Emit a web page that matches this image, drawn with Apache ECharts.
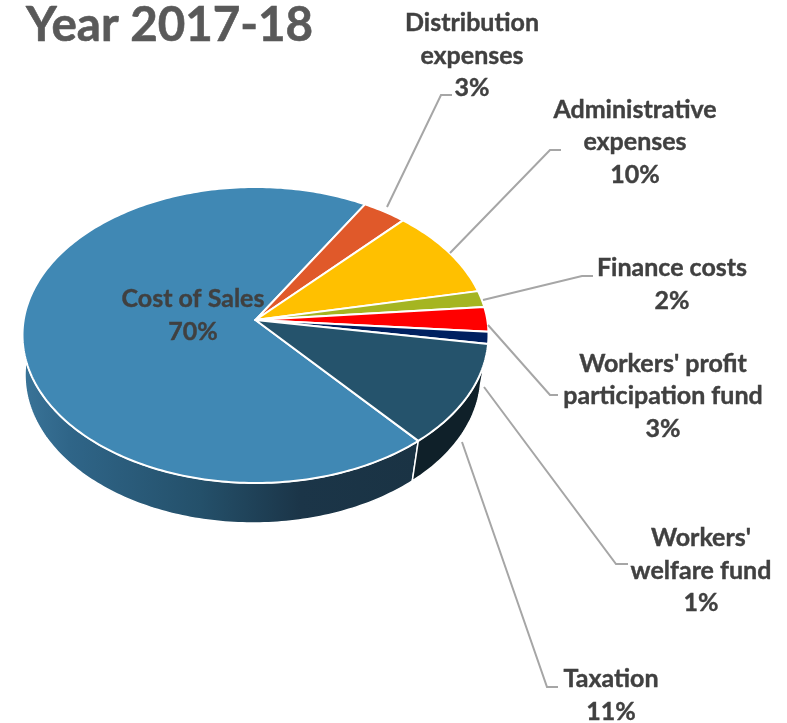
<!DOCTYPE html>
<html>
<head>
<meta charset="utf-8">
<style>html,body{margin:0;padding:0;background:#fff}#c{width:787px;height:723px}</style>
<script src="https://cdn.jsdelivr.net/npm/echarts@6/dist/echarts.min.js"></script>
</head>
<body>
<div id="c"></div>
<script>
// ---- data ----
const categories = ['Cost of Sales', 'Distribution\nexpenses', 'Administrative\nexpenses', 'Finance costs',
  "Workers' profit\nparticipation fund", "Workers'\nwelfare fund", 'Taxation'];
const shares = [69.8, 3.4, 9.8, 1.8, 2.7, 1.3, 11.2];
const titleText = 'Year 2017-18';

// ---- styling ----
const faceColors = ['#4088B4', '#E0592A', '#FFC000', '#A5B521', '#FF0000', '#002060', '#25536C'];
const wallFlat = ['#1F4660', '#7A3415', '#8A6800', '#5A6312', '#8A0000', '#001033', '#0F2029'];
const wallGradientStops = [[0, '#3A7498'], [0.12, '#2F6588'], [0.45, '#24506A'], [0.7, '#1B3548'], [1, '#1A3344']];
const textColor = '#404040';
const leaderColor = '#A6A6A6';
const labelFont = 'bold 25px Lato, "Open Sans", sans-serif';

// ---- layout ----
const startAngle = 139.6;
const apex = { x: 255.5, y: 320 }, RX = 231.8, RY = 146.5, K = 0.1013;
const rimHalfWidth = 233, rimHalfHeight = 148, rimMidY = 335;
const wallCx = 253, wallHalfWidth = 228, wallHalfHeight = 148, wallMidY = 375;
const labelAnchors = [[193, 315.5], [472, 55.5], [635, 142], [672, 284.5], [663, 396], [701, 570.5], [611, 695.5]];
const leaders = [null,
  [[387, 207], [441, 95], [452, 95]],
  [[450, 253], [550, 150], [561, 150]],
  [[483, 300], [582, 276], [593, 276]],
  [[488, 325], [550, 395], [558, 395]],
  [[484, 387], [616, 564], [628, 564]],
  [[462, 442], [547, 687], [558, 687]]];

// cumulative slice angles, derived from the values
const total = shares.reduce((a, b) => a + b, 0);
const spans = [];
shares.reduce((acc, s) => { const a1 = acc + s / total * 360; spans.push([acc, a1]); return a1; }, startAngle);

function topRim(theta) {
  const t = theta * Math.PI / 180, u = Math.sin(t), v = -Math.cos(t), d = 1 - K * v;
  return [apex.x + RX * u / d, apex.y + RY * v / d];
}
function bottomRim(theta) {
  const p = topRim(theta);
  return [wallCx + (p[0] - apex.x) * wallHalfWidth / rimHalfWidth,
          wallMidY + (p[1] - rimMidY) * wallHalfHeight / rimHalfHeight];
}
function arc(fn, a0, a1) {
  const pts = [], n = Math.max(2, Math.ceil(Math.abs(a1 - a0)));
  for (let i = 0; i <= n; i++) pts.push(fn(a0 + (a1 - a0) * i / n));
  return pts;
}
const rows = categories.map((c, i) => [i, shares[i]]);

const chart = echarts.init(document.getElementById('c'), null, { renderer: 'canvas' });
chart.setOption({
  animation: false,
  backgroundColor: '#fff',
  title: {
    text: titleText, left: 21, top: -3,
    textStyle: { fontFamily: 'Lato, "Open Sans", sans-serif', fontWeight: 'bold', fontSize: 47.5, color: '#595959',
      textBorderColor: '#595959', textBorderWidth: 0.6 }
  },
  tooltip: { show: false },
  series: [
    { // side walls
      type: 'custom', coordinateSystem: 'none', z: 1, data: rows, silent: true,
      renderItem(params) {
        const i = params.dataIndex;
        const wrap = spans[i][0] >= 360 ? 360 : 0;
        const a0 = Math.max(spans[i][0] - wrap, 90), a1 = Math.min(spans[i][1] - wrap, 270);
        if (a1 <= a0) return { type: 'group', children: [] };
        const pts = arc(topRim, a0, a1).concat(arc(bottomRim, a1, a0));
        const fill = i === 0
          ? new echarts.graphic.LinearGradient(0, 0, 1, 0, wallGradientStops.map(s => ({ offset: s[0], color: s[1] })))
          : wallFlat[i];
        return { type: 'polygon', shape: { points: pts }, style: { fill, stroke: '#fff', lineWidth: 1.5 } };
      }
    },
    { // top faces
      type: 'custom', coordinateSystem: 'none', z: 2, data: rows, silent: true,
      renderItem(params) {
        const i = params.dataIndex;
        const pts = [[apex.x, apex.y]].concat(arc(topRim, spans[i][0], spans[i][1]));
        return { type: 'polygon', shape: { points: pts }, style: { fill: faceColors[i], stroke: '#fff', lineWidth: 2, lineJoin: 'round' } };
      }
    },
    { // leader lines
      type: 'custom', coordinateSystem: 'none', z: 3, data: rows, silent: true,
      renderItem(params) {
        const l = leaders[params.dataIndex];
        if (!l) return { type: 'group', children: [] };
        return { type: 'polyline', shape: { points: l }, style: { fill: null, stroke: leaderColor, lineWidth: 2 } };
      }
    },
    { // data labels
      type: 'custom', coordinateSystem: 'none', z: 4, data: rows, silent: true,
      renderItem(params, api) {
        const i = params.dataIndex;
        return {
          type: 'text', x: labelAnchors[i][0], y: labelAnchors[i][1],
          style: {
            text: categories[i] + '\n' + Math.round(api.value(1)) + '%',
            font: labelFont, fill: textColor, align: 'center', verticalAlign: 'middle', lineHeight: 32.5,
            stroke: textColor, lineWidth: 0.4
          }
        };
      }
    }
  ]
});
</script>
</body>
</html>
